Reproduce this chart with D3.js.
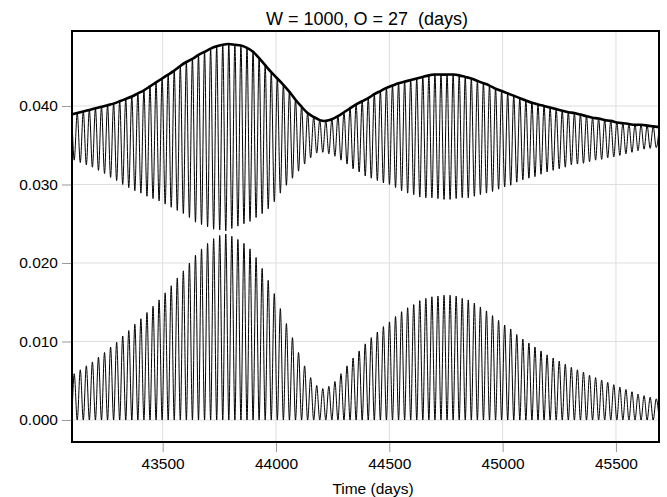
<!DOCTYPE html>
<html>
<head>
<meta charset="utf-8">
<script src="https://cdn.jsdelivr.net/npm/d3@7"></script>
<style>
  html, body { margin: 0; padding: 0; background: #fff; }
  svg { display: block; }
  text { font-family: "Liberation Sans", Arial, sans-serif; fill: #000; }
</style>
</head>
<body>
<svg id="chart" width="667" height="497"></svg>
<script>
// Oscillation timing: first cycle centre and cycle length (days)
const firstCycleDay = 43083;
const cycleDays = 26.75;

// Lower trace: peak value of each cycle (troughs sit on zero)
const lowerPeaks = [
  0.0054, 0.0059, 0.0064, 0.0069, 0.0074, 0.0080, 0.0086, 0.0093, 0.0099, 0.0107,
  0.0114, 0.0122, 0.0129, 0.0137, 0.0145, 0.0153, 0.0162, 0.0171, 0.0181, 0.0190,
  0.0200, 0.0210, 0.0218, 0.0225, 0.0231, 0.0235, 0.0237, 0.0234, 0.0230, 0.0225,
  0.0218, 0.0207, 0.0193, 0.0178, 0.0161, 0.0142, 0.0123, 0.0105, 0.0086, 0.0069,
  0.0054, 0.0044, 0.0040, 0.0043, 0.0049, 0.0059, 0.0069, 0.0079, 0.0088, 0.0097,
  0.0105, 0.0112, 0.0119, 0.0125, 0.0132, 0.0138, 0.0143, 0.0147, 0.0152, 0.0155,
  0.0157, 0.0158, 0.0159, 0.0159, 0.0158, 0.0155, 0.0153, 0.0149, 0.0144, 0.0139,
  0.0133, 0.0127, 0.0121, 0.0116, 0.0109, 0.0103, 0.0098, 0.0093, 0.0088, 0.0083,
  0.0079, 0.0075, 0.0071, 0.0067, 0.0064, 0.0061, 0.0057, 0.0054, 0.0051, 0.0048,
  0.0045, 0.0042, 0.0039, 0.0036, 0.0033, 0.0031, 0.0029, 0.0027
];

// Upper trace: trough value of each cycle
const upperTroughs = [
  0.0334, 0.0331, 0.0328, 0.0325, 0.0322, 0.0318, 0.0314, 0.0309, 0.0305, 0.0300,
  0.0296, 0.0292, 0.0289, 0.0285, 0.0282, 0.0279, 0.0275, 0.0271, 0.0267, 0.0263,
  0.0258, 0.0252, 0.0249, 0.0246, 0.0243, 0.0242, 0.0241, 0.0244, 0.0247, 0.0250,
  0.0253, 0.0258, 0.0263, 0.0269, 0.0278, 0.0289, 0.0299, 0.0308, 0.0317, 0.0326,
  0.0334, 0.0340, 0.0341, 0.0339, 0.0336, 0.0331, 0.0326, 0.0320, 0.0316, 0.0311,
  0.0308, 0.0305, 0.0302, 0.0300, 0.0296, 0.0292, 0.0289, 0.0287, 0.0284, 0.0283,
  0.0283, 0.0282, 0.0281, 0.0281, 0.0282, 0.0283, 0.0283, 0.0285, 0.0287, 0.0289,
  0.0291, 0.0294, 0.0297, 0.0299, 0.0303, 0.0306, 0.0308, 0.0310, 0.0313, 0.0316,
  0.0318, 0.0320, 0.0322, 0.0325, 0.0326, 0.0327, 0.0329, 0.0331, 0.0332, 0.0334,
  0.0335, 0.0337, 0.0339, 0.0341, 0.0343, 0.0345, 0.0346, 0.0347
];

// Upper trace: peak value of each cycle (half a cycle after each trough)
const upperPeaks = [
  0.0389, 0.0391, 0.0393, 0.0395, 0.0397, 0.0399, 0.0401, 0.0403, 0.0406, 0.0409,
  0.0412, 0.0416, 0.0420, 0.0425, 0.0430, 0.0435, 0.0440, 0.0445, 0.0451, 0.0456,
  0.0460, 0.0465, 0.0469, 0.0473, 0.0476, 0.0478, 0.0479, 0.0478, 0.0477, 0.0474,
  0.0469, 0.0461, 0.0452, 0.0443, 0.0435, 0.0427, 0.0418, 0.0408, 0.0399, 0.0391,
  0.0386, 0.0382, 0.0381, 0.0383, 0.0387, 0.0392, 0.0397, 0.0402, 0.0406, 0.0410,
  0.0415, 0.0419, 0.0423, 0.0426, 0.0429, 0.0431, 0.0433, 0.0435, 0.0437, 0.0439,
  0.0440, 0.0440, 0.0440, 0.0440, 0.0439, 0.0437, 0.0435, 0.0432, 0.0429, 0.0426,
  0.0422, 0.0419, 0.0416, 0.0413, 0.0410, 0.0407, 0.0404, 0.0402, 0.0400, 0.0398,
  0.0396, 0.0394, 0.0392, 0.0391, 0.0389, 0.0387, 0.0385, 0.0384, 0.0382, 0.0381,
  0.0379, 0.0378, 0.0377, 0.0376, 0.0376, 0.0375, 0.0374, 0.0373
];

const xTicks = [43500, 44000, 44500, 45000, 45500];
const yTicks = [0.000, 0.010, 0.020, 0.030, 0.040];
const xDomain = [43100, 45690];
const yDomain = [-0.0028, 0.04955];

const titleText = "W = 1000, O = 27  (days)";
const xTitleText = "Time (days)";

const svg = d3.select("#chart");
const plotLeft = 72, plotRight = 659, plotTop = 31, plotBottom = 442;

const x = d3.scaleLinear().domain(xDomain).range([plotLeft, plotRight]);
const y = d3.scaleLinear().domain(yDomain).range([plotBottom, plotTop]);

// Clip region for the traces
svg.append("clipPath").attr("id", "plotClip")
  .append("rect")
  .attr("x", plotLeft).attr("y", plotTop)
  .attr("width", plotRight - plotLeft).attr("height", plotBottom - plotTop);

// Grid
const grid = svg.append("g");
grid.selectAll("line.gx").data(xTicks).join("line")
  .attr("x1", d => x(d)).attr("x2", d => x(d))
  .attr("y1", plotTop).attr("y2", plotBottom)
  .attr("stroke", "#dedede").attr("stroke-width", 1);
grid.selectAll("line.gy").data(yTicks).join("line")
  .attr("x1", plotLeft).attr("x2", plotRight)
  .attr("y1", d => y(d)).attr("y2", d => y(d))
  .attr("stroke", "#dedede").attr("stroke-width", 1);

// Axes
const xAxis = d3.axisBottom(x).tickValues(xTicks).tickFormat(d3.format("d"))
  .tickSize(10).tickPadding(6);
const yAxis = d3.axisLeft(y).tickValues(yTicks).tickFormat(d3.format(".3f"))
  .tickSize(10).tickPadding(4);

const gx = svg.append("g").attr("transform", `translate(0,${plotBottom})`).call(xAxis);
const gy = svg.append("g").attr("transform", `translate(${plotLeft},0)`).call(yAxis);
[gx, gy].forEach(g => {
  g.select(".domain").remove();
  g.selectAll(".tick line").attr("stroke", "#999").attr("stroke-width", 1);
  g.selectAll(".tick text")
    .style("font-family", '"Liberation Sans", Arial, sans-serif')
    .style("font-size", "15.5px").attr("fill", "#000");
});

// Build extrema sequences for each trace
const lowerPts = [];
lowerPeaks.forEach((v, k) => {
  lowerPts.push([firstCycleDay + k * cycleDays, v]);
  lowerPts.push([firstCycleDay + (k + 0.5) * cycleDays, 0]);
});
const upperPts = [];
upperTroughs.forEach((v, k) => {
  upperPts.push([firstCycleDay + k * cycleDays, v]);
  upperPts.push([firstCycleDay + (k + 0.5) * cycleDays, upperPeaks[k]]);
});
const envPts = upperPeaks.map((v, k) => [firstCycleDay + (k + 0.5) * cycleDays, v]);

const wave = d3.line().x(d => x(d[0])).y(d => y(d[1])).curve(d3.curveMonotoneX);
const smooth = d3.line().x(d => x(d[0])).y(d => y(d[1])).curve(d3.curveNatural);

const plot = svg.append("g").attr("clip-path", "url(#plotClip)");
plot.append("path").datum(lowerPts).attr("d", wave)
  .attr("fill", "none").attr("stroke", "#000").attr("stroke-width", 1);
plot.append("path").datum(upperPts).attr("d", wave)
  .attr("fill", "none").attr("stroke", "#000").attr("stroke-width", 1);
plot.append("path").datum(envPts).attr("d", smooth)
  .attr("fill", "none").attr("stroke", "#000").attr("stroke-width", 2.6)
  .attr("stroke-linejoin", "round");

// Frame
svg.append("rect")
  .attr("x", plotLeft).attr("y", plotTop)
  .attr("width", plotRight - plotLeft).attr("height", plotBottom - plotTop)
  .attr("fill", "none").attr("stroke", "#000").attr("stroke-width", 2);

// Titles
svg.append("text")
  .attr("x", 367).attr("y", 25)
  .attr("text-anchor", "middle").style("font-size", "18px")
  .style("white-space", "pre").attr("xml:space", "preserve")
  .text(titleText);
svg.append("text")
  .attr("x", 373).attr("y", 494)
  .attr("text-anchor", "middle").style("font-size", "15.5px")
  .text(xTitleText);
</script>
</body>
</html>
